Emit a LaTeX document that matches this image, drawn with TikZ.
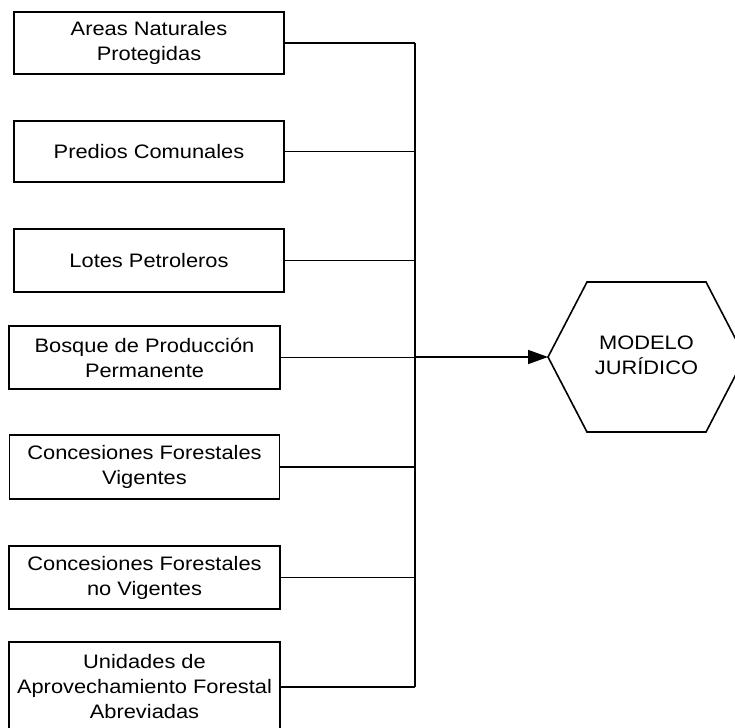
\documentclass[tikz,border=0pt]{standalone}
\usepackage{fontspec}
\setmainfont[FakeStretch=1.12]{Liberation Sans}
\usetikzlibrary{arrows.meta}
\begin{document}
\begin{tikzpicture}[x=1pt,y=-1pt,
  box/.style={draw=black, line width=1.7pt, fill=white, align=center, inner sep=0pt,
    font=\fontsize{19.5}{25}\selectfont},
  conn/.style={draw=black, line width=1.6pt},
  hexa/.style={draw=black, line width=1.6pt, line join=miter}]
\useasboundingbox (0,0) rectangle (735,727);
\clip (0,0) rectangle (735,727);
\node[box, minimum width=270pt, minimum height=62pt] (b1) at (149,43) {Areas Naturales\\Protegidas};
\node[box, minimum width=270pt, minimum height=61pt] (b2) at (149,151.5) {Predios Comunales};
\node[box, minimum width=270pt, minimum height=63pt] (b3) at (149,260.5) {Lotes Petroleros};
\node[box, minimum width=271pt, minimum height=63pt] (b4) at (144.5,357.5) {Bosque de Producción\\Permanente};
\node[box, minimum width=270pt, minimum height=64pt] (b5) at (144.5,467) {Concesiones Forestales\\Vigentes};
\node[box, minimum width=271pt, minimum height=63pt] (b6) at (144.5,577.5) {Concesiones Forestales\\no Vigentes};
\node[box, minimum width=271pt, minimum height=90pt] (b7) at (144.5,687) {Unidades de\\Aprovechamiento Forestal\\Abreviadas};
% hexagon
\node[font=\fontsize{19.5}{25}\selectfont, align=center, inner sep=0pt] (modelo) at (646.5,355) {MODELO\\JURÍDICO};
\coordinate (hexL) at (548,357);
\draw[hexa] (hexL) -- (587,282) -- (706,282) -- (745,357) -- (706,432) -- (587,432) -- cycle;
% bus
\coordinate (busTop) at (415,43);
\coordinate (busBot) at (415,687);
\coordinate (junc) at (415,357);
\draw[conn] (busTop) -- (busBot);
\foreach \b in {b1,b2,b3,b4,b5,b6,b7}{
  \draw[conn] (\b.east) -- (\b.east -| busTop);
}
\draw[conn, -{Triangle[length=20pt,width=14pt]}] (junc) -- (hexL);
\end{tikzpicture}
\end{document}
